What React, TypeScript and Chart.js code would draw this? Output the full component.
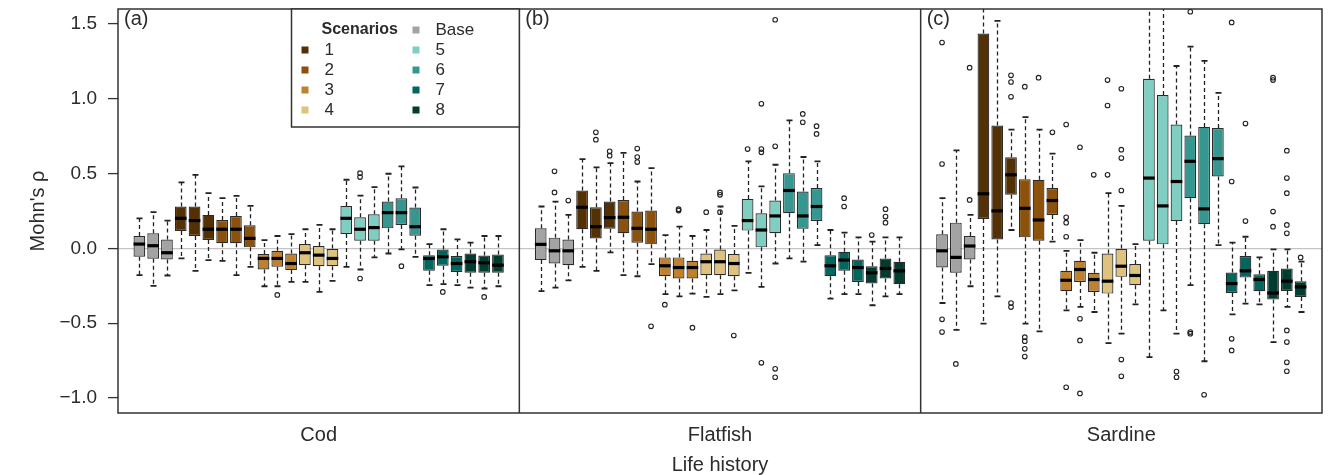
import React, { useEffect, useRef } from 'react';
import { Chart, registerables } from 'chart.js';

Chart.register(...registerables);

// ---------------- data ----------------
const panelNames = ['Cod', 'Flatfish', 'Sardine'];
const panelTags = ['(a)', '(b)', '(c)'];
const groupNames = ['Base', '1', '2', '3', '4', '5', '6', '7', '8'];
const groupColors = ['#a3a3a3', '#543005', '#8c510a', '#bf812d', '#dfc27d', '#80cdc1', '#35978f', '#01665e', '#003c30'];
const boxesPerGroup = 3;
const yTickValues = [-1.0, -0.5, 0.0, 0.5, 1.0, 1.5];
const xAxisTitle = 'Life history';
const yAxisTitle = "Mohn's ρ";
const legendTitle = 'Scenarios';

// Cod
const codLower = [-0.179, -0.251, -0.181, -0.067, -0.150, -0.078, -0.083, -0.179, -0.123, -0.253, -0.253, -0.224, -0.224, -0.291, -0.217, -0.123, -0.141, -0.060, -0.034, -0.007, -0.056, -0.246, -0.239, -0.246, -0.262, -0.268, -0.253];
const codQ1 = [-0.056, -0.069, -0.074, 0.116, 0.083, 0.056, 0.034, 0.034, 0.007, -0.141, -0.123, -0.145, -0.112, -0.119, -0.119, 0.096, 0.051, 0.051, 0.134, 0.157, 0.085, -0.150, -0.116, -0.157, -0.163, -0.163, -0.163];
const codMedian = [0.029, 0.018, -0.029, 0.201, 0.186, 0.128, 0.128, 0.128, 0.067, -0.067, -0.067, -0.101, -0.029, -0.045, -0.067, 0.201, 0.128, 0.139, 0.239, 0.239, 0.145, -0.067, -0.056, -0.101, -0.089, -0.096, -0.112];
const codQ3 = [0.083, 0.101, 0.060, 0.280, 0.280, 0.224, 0.190, 0.217, 0.154, -0.038, -0.016, -0.034, 0.029, 0.016, 0.000, 0.284, 0.208, 0.228, 0.313, 0.336, 0.273, -0.045, -0.007, -0.051, -0.034, -0.047, -0.040];
const codUpper = [0.201, 0.242, 0.186, 0.441, 0.492, 0.369, 0.336, 0.351, 0.284, 0.056, 0.083, 0.096, 0.128, 0.157, 0.128, 0.459, 0.353, 0.409, 0.499, 0.548, 0.407, 0.029, 0.128, 0.060, 0.038, 0.083, 0.083];
const codOutliers: [number, number][] = [
  [10, -0.311], [16, 0.503], [16, 0.477], [16, -0.201], [19, -0.119], [22, -0.291], [25, -0.324],
];

// Flatfish
const flatfishLower = [-0.286, -0.262, -0.213, -0.123, -0.150, -0.027, -0.179, -0.186, -0.105, -0.306, -0.320, -0.302, -0.324, -0.306, -0.280, -0.163, -0.257, -0.101, -0.067, -0.089, 0.022, -0.336, -0.306, -0.306, -0.380, -0.320, -0.306];
const flatfishQ1 = [-0.078, -0.101, -0.112, 0.128, 0.067, 0.132, 0.101, 0.038, 0.027, -0.186, -0.201, -0.201, -0.179, -0.179, -0.186, 0.119, 0.007, 0.101, 0.235, 0.132, 0.183, -0.186, -0.150, -0.224, -0.235, -0.201, -0.239];
const flatfishMedian = [0.027, -0.016, -0.016, 0.275, 0.145, 0.206, 0.208, 0.134, 0.128, -0.116, -0.128, -0.128, -0.089, -0.089, -0.101, 0.186, 0.123, 0.217, 0.387, 0.217, 0.280, -0.116, -0.078, -0.128, -0.163, -0.134, -0.150];
const flatfishQ3 = [0.134, 0.072, 0.060, 0.387, 0.275, 0.313, 0.324, 0.246, 0.253, -0.060, -0.060, -0.083, -0.034, -0.007, -0.038, 0.331, 0.235, 0.320, 0.503, 0.380, 0.403, -0.045, -0.022, -0.074, -0.119, -0.067, -0.089];
const flatfishUpper = [0.280, 0.313, 0.224, 0.597, 0.541, 0.570, 0.638, 0.447, 0.537, 0.089, 0.145, 0.083, 0.123, 0.280, 0.150, 0.582, 0.414, 0.559, 0.855, 0.611, 0.582, 0.123, 0.105, 0.074, 0.045, 0.074, 0.074];
const flatfishOutliers: [number, number][] = [
  [1, 0.515], [1, 0.374], [2, 0.320], [4, 0.776], [4, 0.727], [5, 0.649], [5, 0.620],
  [7, 0.667], [7, 0.611], [7, 0.577], [8, -0.521], [9, -0.376], [10, 0.262], [10, 0.253],
  [11, -0.530], [12, 0.242], [13, 0.374], [13, 0.358], [13, 0.242], [14, -0.582], [15, 0.664],
  [16, 0.966], [16, 0.664], [16, 0.642], [16, -0.765], [17, 1.528], [17, 0.682], [17, -0.805], [17, -0.861],
  [19, 0.899], [19, 0.843], [20, 0.817], [20, 0.765], [22, 0.336], [22, 0.280], [24, 0.089],
  [25, 0.262], [25, 0.213], [25, 0.172],
];

// Sardine
const sardineLower = [-0.365, -0.544, -0.253, -0.503, -0.320, 0.123, -0.503, -0.555, 0.045, -0.414, -0.391, -0.425, -0.633, -0.570, -0.374, -0.727, -0.414, -0.570, -0.246, -0.754, 0.022, -0.441, -0.369, -0.374, -0.626, -0.391, -0.425];
const sardineQ1 = [-0.128, -0.163, -0.074, 0.197, 0.060, 0.358, 0.074, 0.051, 0.224, -0.286, -0.224, -0.291, -0.302, -0.190, -0.246, 0.051, 0.027, 0.183, 0.336, 0.161, 0.481, -0.298, -0.195, -0.286, -0.342, -0.284, -0.324];
const sardineMedian = [-0.016, -0.060, 0.016, 0.365, 0.251, 0.492, 0.268, 0.190, 0.320, -0.213, -0.141, -0.208, -0.219, -0.119, -0.181, 0.470, 0.284, 0.447, 0.582, 0.264, 0.600, -0.235, -0.150, -0.208, -0.298, -0.219, -0.257];
const sardineQ3 = [0.094, 0.172, 0.083, 1.436, 0.821, 0.609, 0.463, 0.459, 0.403, -0.150, -0.083, -0.163, -0.034, 0.000, -0.105, 1.134, 1.025, 0.828, 0.754, 0.812, 0.805, -0.161, -0.051, -0.172, -0.150, -0.134, -0.219];
const sardineUpper = [0.336, 0.655, 0.224, 1.750, 1.521, 0.794, 0.877, 0.794, 0.633, -0.016, 0.056, -0.029, 0.369, 0.284, 0.029, 1.700, 1.650, 1.219, 1.349, 1.253, 1.040, 0.038, 0.078, -0.060, -0.007, -0.007, -0.089];
const sardineOutliers: [number, number][] = [
  [0, 1.376], [0, 0.564], [0, -0.474], [0, -0.559], [1, -0.772], [2, 1.208], [2, 0.324],
  [5, 1.157], [5, 1.112], [5, 1.013], [5, -0.365], [5, -0.392],
  [6, 1.081], [6, -0.593], [6, -0.620], [6, -0.671], [6, -0.723], [7, 1.141], [8, 0.776],
  [9, 0.828], [9, 0.208], [9, 0.172], [9, 0.078], [9, -0.928],
  [10, 0.676], [10, -0.470], [10, -0.615], [10, -0.969], [11, 0.492],
  [12, 1.125], [12, 0.955], [12, 0.492],
  [13, 1.067], [13, 0.660], [13, 0.604], [13, 0.387], [13, -0.743], [13, -0.855],
  [17, -0.823], [17, -0.861], [18, 1.582], [18, -0.559], [18, -0.570], [19, -0.978],
  [21, 1.510], [21, 0.447], [21, -0.604], [21, -0.682], [22, 0.834], [22, 0.183],
  [24, 1.141], [24, 1.125], [24, 0.246], [24, 0.145],
  [25, 0.653], [25, 0.470], [25, 0.369], [25, 0.157], [25, 0.101], [25, -0.548], [25, -0.626], [25, -0.761], [25, -0.821],
  [26, -0.060],
];

// ---------------- layout in x units ----------------
const boxCount = groupNames.length * boxesPerGroup; // 27
const sideGap = 1.55;
const panelSpan = boxCount - 1 + 2 * sideGap;

const panelsData = [
  { lower: codLower, q1: codQ1, median: codMedian, q3: codQ3, upper: codUpper, outliers: codOutliers },
  { lower: flatfishLower, q1: flatfishQ1, median: flatfishMedian, q3: flatfishQ3, upper: flatfishUpper, outliers: flatfishOutliers },
  { lower: sardineLower, q1: sardineQ1, median: sardineMedian, q3: sardineQ3, upper: sardineUpper, outliers: sardineOutliers },
];

const boxX = (p: number, i: number) => p * panelSpan + sideGap + i;

const FONT = "'Liberation Sans', Arial, Helvetica, sans-serif";
const INK = '#2b2b2b';

const boxData: { x: number; y: [number, number] }[] = [];
const boxColors: string[] = [];
const medianData: { x: number; y: number }[] = [];
const outlierData: { x: number; y: number }[] = [];
panelsData.forEach((pd, p) => {
  for (let i = 0; i < boxCount; i++) {
    boxData.push({ x: boxX(p, i), y: [pd.q1[i], pd.q3[i]] });
    boxColors.push(groupColors[Math.floor(i / boxesPerGroup)]);
    medianData.push({ x: boxX(p, i), y: pd.median[i] });
  }
  pd.outliers.forEach(([i, v]) => outlierData.push({ x: boxX(p, i), y: v }));
});

const whiskerPlugin = {
  id: 'whiskers',
  beforeDatasetsDraw(chart: any) {
    const { ctx, chartArea, scales } = chart;
    const xs = scales.x;
    const ys = scales.y;
    ctx.save();
    ctx.beginPath();
    ctx.rect(chartArea.left, chartArea.top, chartArea.right - chartArea.left, chartArea.bottom - chartArea.top);
    ctx.clip();
    ctx.strokeStyle = '#222';
    panelsData.forEach((pd, p) => {
      for (let i = 0; i < boxCount; i++) {
        const px = Math.round(xs.getPixelForValue(boxX(p, i))) + 0.5;
        const yU = ys.getPixelForValue(pd.upper[i]);
        const yQ3 = ys.getPixelForValue(pd.q3[i]);
        const yQ1 = ys.getPixelForValue(pd.q1[i]);
        const yL = ys.getPixelForValue(pd.lower[i]);
        ctx.lineWidth = 1.3;
        ctx.setLineDash([4, 3]);
        ctx.beginPath();
        ctx.moveTo(px, yQ3);
        ctx.lineTo(px, yU);
        ctx.moveTo(px, yQ1);
        ctx.lineTo(px, yL);
        ctx.stroke();
        ctx.setLineDash([]);
        ctx.lineWidth = 1.8;
        ctx.beginPath();
        ctx.moveTo(px - 3, yU);
        ctx.lineTo(px + 3, yU);
        ctx.moveTo(px - 3, yL);
        ctx.lineTo(px + 3, yL);
        ctx.stroke();
      }
    });
    ctx.restore();
  },
};

const framePlugin = {
  id: 'frame',
  afterDraw(chart: any) {
    const { ctx, chartArea, scales } = chart;
    const xs = scales.x;
    const { left, right, top, bottom } = chartArea;
    ctx.save();
    ctx.strokeStyle = '#333';
    ctx.lineWidth = 1.5;
    ctx.strokeRect(left, top, right - left, bottom - top);
    for (let p = 1; p < panelNames.length; p++) {
      const px = xs.getPixelForValue(p * panelSpan);
      ctx.beginPath();
      ctx.moveTo(px, top);
      ctx.lineTo(px, bottom);
      ctx.stroke();
    }
    // panel tags
    ctx.fillStyle = INK;
    ctx.font = `20px ${FONT}`;
    ctx.textAlign = 'left';
    ctx.textBaseline = 'middle';
    panelTags.forEach((t, p) => {
      const px = xs.getPixelForValue(p * panelSpan);
      ctx.fillText(t, px + 6, top + 10);
    });

    // legend box
    const lgRight = xs.getPixelForValue(panelSpan);
    const lgLeft = left + 173.5;
    const lgBottom = top + 118;
    ctx.fillStyle = '#fff';
    ctx.fillRect(lgLeft, top, lgRight - lgLeft, lgBottom - top);
    ctx.lineWidth = 1.5;
    ctx.strokeRect(lgLeft, top, lgRight - lgLeft, lgBottom - top);
    const rowY = (r: number) => top + 21 + r * 20;
    const col1Sq = lgLeft + 13.5;
    const col1Tx = lgLeft + 33;
    const col2Sq = lgLeft + 124.5;
    const col2Tx = lgLeft + 144;
    ctx.textBaseline = 'middle';
    ctx.fillStyle = INK;
    ctx.font = `bold 16px ${FONT}`;
    ctx.fillText(legendTitle, lgLeft + 30, rowY(0));
    const sq = 7;
    const drawItem = (gi: number, cx: number, tx: number, r: number) => {
      ctx.fillStyle = groupColors[gi];
      ctx.fillRect(cx - sq / 2, rowY(r) - sq / 2, sq, sq);
      ctx.fillStyle = INK;
      ctx.font = `17px ${FONT}`;
      ctx.fillText(groupNames[gi], tx, rowY(r));
    };
    drawItem(0, col2Sq, col2Tx, 0);
    for (let g = 1; g <= 4; g++) drawItem(g, col1Sq, col1Tx, g);
    for (let g = 5; g <= 8; g++) drawItem(g, col2Sq, col2Tx, g - 4);
    ctx.restore();
  },
};

export default function App() {
  const ref = useRef<HTMLCanvasElement | null>(null);
  useEffect(() => {
    if (!ref.current) return;
    const chart = new Chart(ref.current, {
      type: 'bar',
      data: {
        datasets: [
          {
            type: 'scatter',
            label: 'median',
            data: medianData,
            pointStyle: 'line',
            pointRadius: 5.8,
            borderWidth: 3.2,
            borderColor: '#000',
            backgroundColor: '#000',
            order: 1,
          } as any,
          {
            type: 'scatter',
            label: 'outliers',
            data: outlierData,
            pointStyle: 'circle',
            pointRadius: 2.3,
            borderWidth: 1.1,
            borderColor: '#222',
            backgroundColor: 'rgba(255,255,255,0)',
            order: 2,
          } as any,
          {
            type: 'bar',
            label: 'boxes',
            data: boxData as any,
            backgroundColor: boxColors,
            borderColor: '#2a2a2a',
            borderWidth: 1.2,
            borderSkipped: false,
            barPercentage: 0.85,
            categoryPercentage: 1,
            order: 3,
          } as any,
        ],
      },
      options: {
        responsive: false,
        animation: false,
        events: [],
        layout: { padding: { top: 9, right: 10, left: 0, bottom: 0 } },
        plugins: { legend: { display: false }, tooltip: { enabled: false } },
        scales: {
          x: {
            type: 'linear',
            offset: false,
            min: 0,
            max: panelSpan * panelNames.length,
            afterBuildTicks: (s: any) => {
              s.ticks = panelNames.map((_, p) => ({ value: p * panelSpan + panelSpan / 2 }));
            },
            afterFit: (s: any) => {
              s.height = 62;
              s.paddingLeft = 0;
              s.paddingRight = 0;
            },
            grid: { display: false, drawTicks: true, tickLength: 6, offset: false },
            border: { display: false },
            ticks: {
              autoSkip: false,
              maxRotation: 0,
              padding: 4,
              color: INK,
              font: { family: FONT, size: 20 },
              callback: (v: any) => {
                const idx = Math.floor(Number(v) / panelSpan);
                return panelNames[idx] ?? '';
              },
            },
            title: {
              display: true,
              text: xAxisTitle,
              color: INK,
              font: { family: FONT, size: 20, lineHeight: 1.0 },
              padding: { top: 0, bottom: 0 },
            },
          },
          y: {
            type: 'linear',
            min: -1.1,
            max: 1.6,
            afterBuildTicks: (s: any) => {
              s.ticks = yTickValues.map((v) => ({ value: v }));
            },
            afterFit: (s: any) => {
              s.width = 118;
              s.paddingTop = 0;
              s.paddingBottom = 0;
            },
            grid: {
              drawTicks: true,
              tickLength: 10,
              tickColor: '#333',
              tickWidth: 1.3,
              color: (c: any) => (c.tick && c.tick.value === 0 ? '#c4c4c4' : 'rgba(0,0,0,0)'),
              lineWidth: 1.2,
            },
            border: { display: false },
            ticks: {
              padding: 11,
              color: INK,
              font: { family: FONT, size: 19 },
              callback: (v: any) => {
                const n = Number(v);
                return (n < 0 ? '\u2212' : '') + Math.abs(n).toFixed(1);
              },
            },
            title: {
              display: true,
              text: yAxisTitle,
              color: INK,
              font: { family: FONT, size: 20 },
              padding: { top: 26, bottom: 0 },
            },
          },
        },
      },
      plugins: [whiskerPlugin, framePlugin],
    });
    return () => chart.destroy();
  }, []);
  return (
    <div style={{ position: 'absolute', left: 0, top: 0, width: 1332, height: 475, background: '#fff' }}>
      <canvas ref={ref} width={1332} height={475} style={{ display: 'block' }} />
    </div>
  );
}
